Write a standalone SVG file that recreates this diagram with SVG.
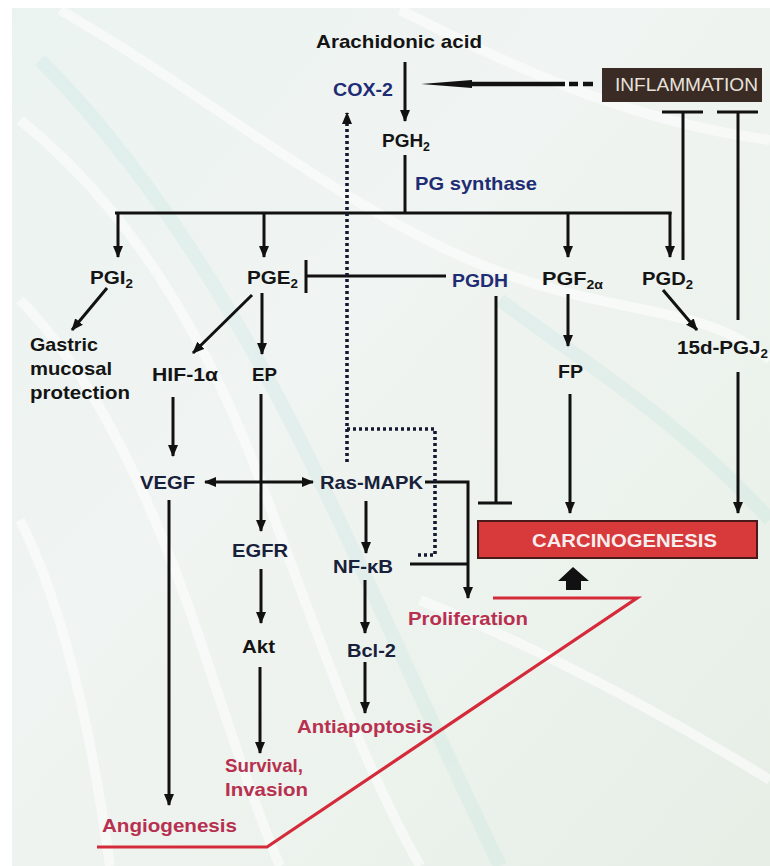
<svg xmlns="http://www.w3.org/2000/svg" width="770" height="866" viewBox="0 0 770 866">
<defs>
<style>
.t{font-family:"Liberation Sans",Arial,sans-serif;font-weight:bold;font-size:18.5px;fill:#141414}
.n{fill:#1e2c74}
.d{fill:#18203a}
.r{fill:#b8304f}
.s{font-size:12px}
.ln{stroke:#111;stroke-width:3;fill:none}
.dot{stroke:#141a30;stroke-width:3.6;fill:none;stroke-dasharray:3 3}
.red{stroke:#d42a3a;stroke-width:3.2;fill:none}
</style>
<marker id="ah" viewBox="0 0 12 11" refX="11" refY="5.5" markerWidth="12" markerHeight="11" markerUnits="userSpaceOnUse" orient="auto-start-reverse">
<path d="M0,0.5 L12,5.5 L0,10.5 z" fill="#111"/>
</marker>
<linearGradient id="bg" x1="0" y1="0" x2="1" y2="1">
<stop offset="0" stop-color="#ebf3f0"/>
<stop offset="0.4" stop-color="#f0f4f2"/>
<stop offset="0.7" stop-color="#ecf2ec"/>
<stop offset="1" stop-color="#e6eee6"/>
</linearGradient>
</defs>
<rect width="770" height="866" fill="#ffffff"/>
<rect x="12" y="8" width="758" height="858" fill="url(#bg)"/>
<g opacity="0.55" fill="none" stroke="#ffffff" stroke-width="10">
<path d="M20,120 C120,200 200,320 260,480 S360,760 420,866"/>
<path d="M20,300 C100,380 160,520 200,640 S260,820 280,866"/>
<path d="M60,10 C200,90 330,200 470,260 S700,300 770,360"/>
<path d="M400,10 C500,60 620,120 770,140"/>
<path d="M420,600 C520,640 640,700 770,780"/>
<path d="M20,520 C60,600 90,720 110,866"/>
</g>
<g opacity="0.25" fill="none" stroke="#bfe3e0" stroke-width="14">
<path d="M40,60 C140,160 230,300 300,440 S420,700 500,866"/>
<path d="M500,300 C580,360 680,420 770,520"/>
</g>

<g id="connectors">
<line class="ln" x1="405" y1="62" x2="405" y2="121" marker-end="url(#ah)"/>
<line x1="466" y1="84" x2="565" y2="84" stroke="#111" stroke-width="4.5"/>
<polygon points="421,84 472,80 472,88" fill="#111"/>
<line x1="569" y1="84" x2="578" y2="84" stroke="#111" stroke-width="4.5"/>
<line x1="583" y1="84" x2="593" y2="84" stroke="#111" stroke-width="4.5"/>
<line class="ln" x1="405" y1="155" x2="405" y2="213"/>
<line class="ln" x1="115" y1="213" x2="671.5" y2="213" stroke-width="3.2"/>
<line class="ln" x1="118" y1="212" x2="118" y2="257" marker-end="url(#ah)"/>
<line class="ln" x1="264" y1="212" x2="264" y2="257" marker-end="url(#ah)"/>
<line class="ln" x1="568" y1="212" x2="568" y2="257" marker-end="url(#ah)"/>
<line class="ln" x1="670" y1="212" x2="670" y2="257" marker-end="url(#ah)"/>
<line class="ln" x1="662" y1="112" x2="703" y2="112" stroke-width="4"/>
<line class="ln" x1="683" y1="112" x2="683" y2="260"/>
<line class="ln" x1="717" y1="112" x2="758" y2="112" stroke-width="4"/>
<line class="ln" x1="738" y1="112" x2="738" y2="320"/>
<line class="ln" x1="306" y1="276" x2="446" y2="276"/>
<line class="ln" x1="306" y1="260" x2="306" y2="293" stroke-width="4.8"/>
<line class="ln" x1="496" y1="296" x2="496" y2="503"/>
<line class="ln" x1="478" y1="503" x2="512" y2="503" stroke-width="4"/>
<line class="ln" x1="107" y1="288" x2="72" y2="330" marker-end="url(#ah)"/>
<line class="ln" x1="252" y1="295" x2="193" y2="353" marker-end="url(#ah)"/>
<line class="ln" x1="262" y1="293" x2="262" y2="354" marker-end="url(#ah)"/>
<line class="ln" x1="568" y1="294" x2="568" y2="346" marker-end="url(#ah)"/>
<line class="ln" x1="663" y1="290" x2="697" y2="330" marker-end="url(#ah)"/>
<line class="ln" x1="570" y1="394" x2="570" y2="513" marker-end="url(#ah)"/>
<line class="ln" x1="738" y1="372" x2="738" y2="513" marker-end="url(#ah)"/>
<line class="ln" x1="173" y1="397" x2="173" y2="456" marker-end="url(#ah)"/>
<line class="ln" x1="261" y1="394" x2="261" y2="531" marker-end="url(#ah)"/>
<line class="ln" x1="205" y1="482" x2="313" y2="482" marker-start="url(#ah)" marker-end="url(#ah)"/>
<line class="ln" x1="366" y1="501" x2="366" y2="553" marker-end="url(#ah)"/>
<polyline class="ln" points="425,482 468,482 468,598" marker-end="url(#ah)"/>
<line class="ln" x1="410" y1="564" x2="468" y2="564"/>
<line class="dot" x1="347" y1="462" x2="347" y2="113" marker-end="url(#ah)"/>
<polyline class="dot" points="347,429 435,429 435,555 415,555"/>
<line class="ln" x1="169" y1="500" x2="169" y2="805" marker-end="url(#ah)"/>
<line class="ln" x1="261" y1="569" x2="261" y2="623" marker-end="url(#ah)"/>
<line class="ln" x1="260" y1="667" x2="260" y2="753" marker-end="url(#ah)"/>
<line class="ln" x1="365" y1="580" x2="365" y2="633" marker-end="url(#ah)"/>
<line class="ln" x1="365" y1="662" x2="365" y2="713" marker-end="url(#ah)"/>
<polygon points="573,567 558,581 566,581 566,590 581,590 581,581 589,581" fill="#111"/>
<polyline class="red" points="493,598 637,598 267,847 97,847"/>
</g>

<g id="inflammation">
<rect x="602" y="68" width="160" height="34" fill="#3a2b24"/>
<text x="615" y="91" class="t" style="font-weight:normal;fill:#e8e2dc;font-size:18px" textLength="143" lengthAdjust="spacingAndGlyphs">INFLAMMATION</text>
</g>
<g id="carcinogenesis">
<rect x="478" y="521" width="279" height="37" fill="#d8393a" stroke="#4a1a1a" stroke-width="2"/>
<text x="532" y="547" class="t" style="fill:#f6eeee;font-size:18.5px" textLength="185" lengthAdjust="spacingAndGlyphs">CARCINOGENESIS</text>
</g>
<g id="arachidonic"><text x="316" y="48" class="t" style="font-size:19px" textLength="166" lengthAdjust="spacingAndGlyphs">Arachidonic acid</text></g>
<g id="cox2"><text x="333" y="96" class="t n" textLength="60" lengthAdjust="spacingAndGlyphs">COX-2</text></g>
<g id="pgh2"><text x="382" y="147" class="t" textLength="48" lengthAdjust="spacingAndGlyphs">PGH<tspan class="s" dy="4">2</tspan></text></g>
<g id="pgsynthase"><text x="415" y="190" class="t n" textLength="122" lengthAdjust="spacingAndGlyphs">PG synthase</text></g>
<g id="pgi2"><text x="90" y="284" class="t" textLength="43" lengthAdjust="spacingAndGlyphs">PGI<tspan class="s" dy="4">2</tspan></text></g>
<g id="pge2"><text x="247" y="284" class="t" textLength="51" lengthAdjust="spacingAndGlyphs">PGE<tspan class="s" dy="4">2</tspan></text></g>
<g id="pgdh"><text x="452" y="287" class="t n" textLength="56" lengthAdjust="spacingAndGlyphs">PGDH</text></g>
<g id="pgf2a"><text x="542" y="285" class="t" textLength="61" lengthAdjust="spacingAndGlyphs">PGF<tspan class="s" dy="4">2α</tspan></text></g>
<g id="pgd2"><text x="642" y="285" class="t" textLength="51" lengthAdjust="spacingAndGlyphs">PGD<tspan class="s" dy="4">2</tspan></text></g>
<g id="gastric">
<text x="30" y="351" class="t" textLength="68" lengthAdjust="spacingAndGlyphs">Gastric</text>
<text x="30" y="375" class="t" textLength="82" lengthAdjust="spacingAndGlyphs">mucosal</text>
<text x="30" y="399" class="t" textLength="100" lengthAdjust="spacingAndGlyphs">protection</text>
</g>
<g id="hif1a"><text x="152" y="381" class="t" textLength="66" lengthAdjust="spacingAndGlyphs">HIF-1α</text></g>
<g id="ep"><text x="252" y="381" class="t" textLength="25" lengthAdjust="spacingAndGlyphs">EP</text></g>
<g id="pgj2"><text x="677" y="354" class="t" textLength="91" lengthAdjust="spacingAndGlyphs">15d-PGJ<tspan class="s" dy="4">2</tspan></text></g>
<g id="fp"><text x="558" y="378" class="t" textLength="25" lengthAdjust="spacingAndGlyphs">FP</text></g>
<g id="vegf"><text x="140" y="489" class="t d" textLength="55" lengthAdjust="spacingAndGlyphs">VEGF</text></g>
<g id="rasmapk"><text x="320" y="489" class="t d" textLength="103" lengthAdjust="spacingAndGlyphs">Ras-MAPK</text></g>
<g id="egfr"><text x="232" y="557" class="t d" textLength="56" lengthAdjust="spacingAndGlyphs">EGFR</text></g>
<g id="nfkb"><text x="333" y="573" class="t d" textLength="60" lengthAdjust="spacingAndGlyphs">NF-κB</text></g>
<g id="proliferation"><text x="408" y="625" class="t r" textLength="120" lengthAdjust="spacingAndGlyphs">Proliferation</text></g>
<g id="akt"><text x="242" y="653" class="t" textLength="33" lengthAdjust="spacingAndGlyphs">Akt</text></g>
<g id="bcl2"><text x="347" y="657" class="t d" textLength="49" lengthAdjust="spacingAndGlyphs">Bcl-2</text></g>
<g id="antiapoptosis"><text x="297" y="733" class="t r" textLength="136" lengthAdjust="spacingAndGlyphs">Antiapoptosis</text></g>
<g id="survival">
<text x="225" y="772" class="t r" textLength="78" lengthAdjust="spacingAndGlyphs">Survival,</text>
<text x="225" y="796" class="t r" textLength="83" lengthAdjust="spacingAndGlyphs">Invasion</text>
</g>
<g id="angiogenesis"><text x="102" y="832" class="t r" textLength="135" lengthAdjust="spacingAndGlyphs">Angiogenesis</text></g>
</svg>
